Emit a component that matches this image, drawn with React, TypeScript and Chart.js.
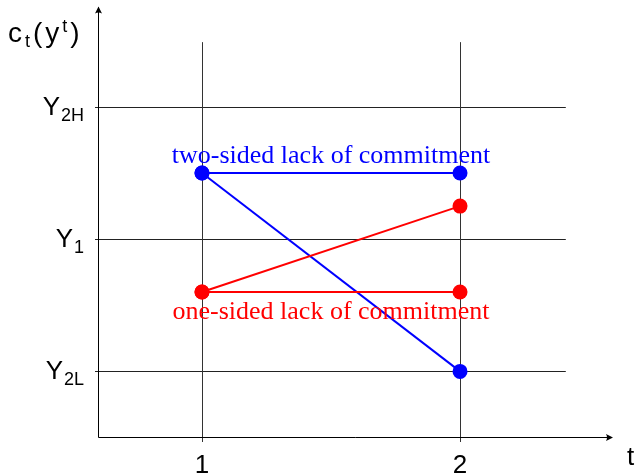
import React, { useEffect, useRef } from "react";
import { Chart, registerables } from "chart.js";

Chart.register(...registerables);

// Periods on the horizontal axis
const periods = [1, 2];
const periodLabels = ["1", "2"];

// Consumption levels marked on the vertical axis
const levelValues = [1, 2, 3];
const levelSubs = ["2L", "1", "2H"];

// Consumption paths
const twoSidedFlat = [2.5, 2.5];
const twoSidedFall = [2.5, 1];
const oneSidedFlat = [1.6, 1.6];
const oneSidedRise = [1.6, 2.25];

const twoSidedLabel = "two-sided lack of commitment";
const oneSidedLabel = "one-sided lack of commitment";

const BLUE = "#0000ff";
const RED = "#ff0000";
const SANS = "'Liberation Sans', 'DejaVu Sans', sans-serif";
const SERIF = "'Liberation Serif', 'DejaVu Serif', serif";

const toPoints = (ys: number[]) => periods.map((x, i) => ({ x, y: ys[i] }));

const schemePlugin = {
  id: "scheme",
  beforeDatasetsDraw(chart: any) {
    const { ctx, chartArea, scales } = chart;
    const xs = scales.x;
    const ys = scales.y;
    const x0 = chartArea.left;
    const y0 = chartArea.bottom;
    ctx.save();
    ctx.lineWidth = 1;
    // horizontal level lines
    ctx.strokeStyle = "#222";
    const hEnd = xs.getPixelForValue(2.41);
    levelValues.forEach((v) => {
      const py = Math.round(ys.getPixelForValue(v)) + 0.5;
      ctx.beginPath();
      ctx.moveTo(x0 - 3, py);
      ctx.lineTo(hEnd, py);
      ctx.stroke();
    });
    // vertical period lines
    ctx.strokeStyle = "#333";
    const vTop = ys.getPixelForValue(3.49);
    periods.forEach((p) => {
      const px = Math.round(xs.getPixelForValue(p)) + 0.5;
      ctx.beginPath();
      ctx.moveTo(px, y0 + 5);
      ctx.lineTo(px, vTop);
      ctx.stroke();
    });
    // axes with arrow heads
    ctx.strokeStyle = "#000";
    const ax = Math.round(x0) + 0.5;
    const ay = Math.round(y0) + 0.5;
    const xEnd = chartArea.right;
    const yEnd = chartArea.top;
    ctx.beginPath();
    ctx.moveTo(ax, ay);
    ctx.lineTo(xEnd, ay);
    ctx.moveTo(ax, ay);
    ctx.lineTo(ax, yEnd);
    ctx.stroke();
    ctx.fillStyle = "#000";
    ctx.beginPath();
    ctx.moveTo(xEnd + 1, ay);
    ctx.lineTo(xEnd - 6, ay - 3.5);
    ctx.quadraticCurveTo(xEnd - 4, ay, xEnd - 6, ay + 3.5);
    ctx.closePath();
    ctx.fill();
    ctx.beginPath();
    ctx.moveTo(ax, yEnd - 1);
    ctx.lineTo(ax - 3.5, yEnd + 6);
    ctx.quadraticCurveTo(ax, yEnd + 4, ax + 3.5, yEnd + 6);
    ctx.closePath();
    ctx.fill();
    ctx.restore();
  },
  afterDatasetsDraw(chart: any) {
    const { ctx, chartArea, scales } = chart;
    const xs = scales.x;
    const ys = scales.y;
    ctx.save();
    ctx.fillStyle = "#000";
    ctx.textBaseline = "alphabetic";

    // period tick labels
    ctx.font = `26px ${SANS}`;
    ctx.textAlign = "center";
    periods.forEach((p, i) => {
      ctx.fillText(periodLabels[i], xs.getPixelForValue(p), chartArea.bottom + 36);
    });

    // level labels Y with subscripts, right aligned left of the axis
    ctx.textAlign = "left";
    const rightEdge = chartArea.left - 14;
    levelValues.forEach((v, i) => {
      const py = ys.getPixelForValue(v);
      ctx.font = `26px ${SANS}`;
      const wY = ctx.measureText("Y").width;
      ctx.font = `18px ${SANS}`;
      const wS = ctx.measureText(levelSubs[i]).width;
      const start = rightEdge - wY - wS - 1;
      ctx.font = `26px ${SANS}`;
      ctx.fillText("Y", start, py + 8);
      ctx.font = `18px ${SANS}`;
      ctx.fillText(levelSubs[i], start + wY + 1, py + 14);
    });

    // axis titles
    let cx = 8;
    const base = 42;
    const piece = (txt: string, size: number, dy: number) => {
      ctx.font = `${size}px ${SANS}`;
      ctx.fillText(txt, cx, base + dy);
      cx += ctx.measureText(txt).width + 3;
    };
    piece("c", 28, 0);
    piece("t", 18, 5);
    piece("(", 28, 0);
    piece("y", 28, 0);
    piece("t", 18, -10);
    piece(")", 28, 0);
    ctx.font = `26px ${SANS}`;
    ctx.fillText("t", chartArea.right + 15, chartArea.bottom + 28);

    // path annotations
    ctx.textAlign = "center";
    ctx.font = `26px ${SERIF}`;
    const mid = xs.getPixelForValue(1.5);
    ctx.fillStyle = BLUE;
    ctx.fillText(twoSidedLabel, mid, ys.getPixelForValue(twoSidedFlat[0]) - 10);
    ctx.fillStyle = RED;
    ctx.fillText(oneSidedLabel, mid, ys.getPixelForValue(oneSidedFlat[0]) + 27);
    ctx.restore();
  },
};

export default function App() {
  const ref = useRef<HTMLCanvasElement>(null);

  useEffect(() => {
    if (!ref.current) return;
    const line = (data: number[], color: string) => ({
      data: toPoints(data),
      borderColor: color,
      backgroundColor: color,
      borderWidth: 2,
      pointRadius: 7.5,
      pointHoverRadius: 7.5,
      pointBorderWidth: 0,
      showLine: true,
      tension: 0,
    });
    const chart = new Chart(ref.current, {
      type: "scatter",
      data: {
        datasets: [
          line(oneSidedFlat, RED),
          line(oneSidedRise, RED),
          line(twoSidedFlat, BLUE),
          line(twoSidedFall, BLUE),
        ],
      },
      options: {
        animation: false,
        responsive: false,
        events: [],
        layout: { padding: { left: 98, right: 27, top: 5, bottom: 37 } },
        plugins: { legend: { display: false }, tooltip: { enabled: false } },
        scales: {
          x: { type: "linear", min: 0.597, max: 2.589, display: false },
          y: { type: "linear", min: 0.504, max: 3.752, display: false },
        },
      },
      plugins: [schemePlugin],
    });
    return () => chart.destroy();
  }, []);

  return (
    <div style={{ position: "fixed", left: 0, top: 0, width: 639, height: 474, background: "#fff" }}>
      <canvas ref={ref} width={639} height={474} style={{ width: 639, height: 474 }} />
    </div>
  );
}
